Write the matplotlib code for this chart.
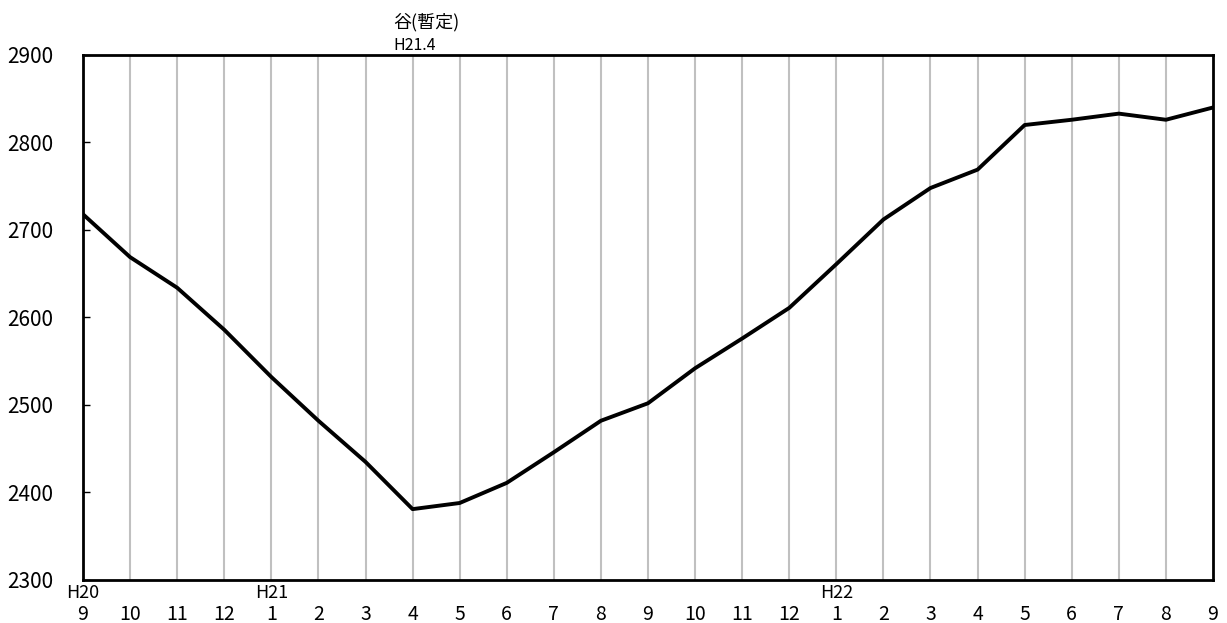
import matplotlib
matplotlib.use("Agg")
import matplotlib.pyplot as plt

plt.rcParams['font.family'] = ['Noto Sans CJK JP', 'DejaVu Sans']

months = ["9", "10", "11", "12", "1", "2", "3", "4", "5", "6", "7", "8",
          "9", "10", "11", "12", "1", "2", "3", "4", "5", "6", "7", "8", "9"]
year_labels = {0: "H20", 4: "H21", 16: "H22"}
values = [2718, 2669, 2634, 2586, 2532, 2482, 2435, 2381, 2388, 2411,
          2446, 2482, 2502, 2542, 2576, 2611, 2661, 2712, 2748, 2769,
          2820, 2826, 2833, 2826, 2840]
yticks = [2300, 2400, 2500, 2600, 2700, 2800, 2900]
trough_index = 7
trough_label = "谷(暫定)"
trough_date = "H21.4"

W, H = 1227, 623
L, R, T, B = 83, 1213, 55, 580
fig = plt.figure(figsize=(W / 100, H / 100), dpi=100)
ax = fig.add_axes([L / W, 1 - B / H, (R - L) / W, (B - T) / H])
ah = B - T

x = list(range(len(values)))
for xi in x[1:-1]:
    ax.axvline(xi, color="#c0c0c0", lw=1.5, zorder=1)
ax.plot(x, values, color="black", lw=2.8, zorder=3)

ax.set_xlim(0, len(values) - 1)
ax.set_ylim(2300, 2900)
ax.set_yticks(yticks)
ax.set_yticklabels([str(v) for v in yticks], fontsize=15)
ax.tick_params(axis="y", direction="in", length=5, width=1, pad=21.5)
ax.set_xticks(x)
ax.set_xticklabels(months, fontsize=14, va="baseline")
ax.tick_params(axis="x", length=0, pad=28.5)
for s in ax.spines.values():
    s.set_linewidth(2)
    s.set_color("black")

xt = ax.get_xaxis_transform()
for i, lab in year_labels.items():
    ax.text(i, -18.5 / ah, lab, transform=xt, ha="center", va="baseline",
            fontsize=13, clip_on=False)

x_ann = trough_index - (414 - 395) / ((R - L) / (len(values) - 1))
ax.text(x_ann, 1 + 5 / ah, trough_date, transform=xt,
        ha="left", va="baseline", fontsize=11.5, clip_on=False)
ax.text(x_ann, 1 + 28 / ah, trough_label, transform=xt,
        ha="left", va="baseline", fontsize=13, clip_on=False)

fig.savefig("out.png", dpi=100)
